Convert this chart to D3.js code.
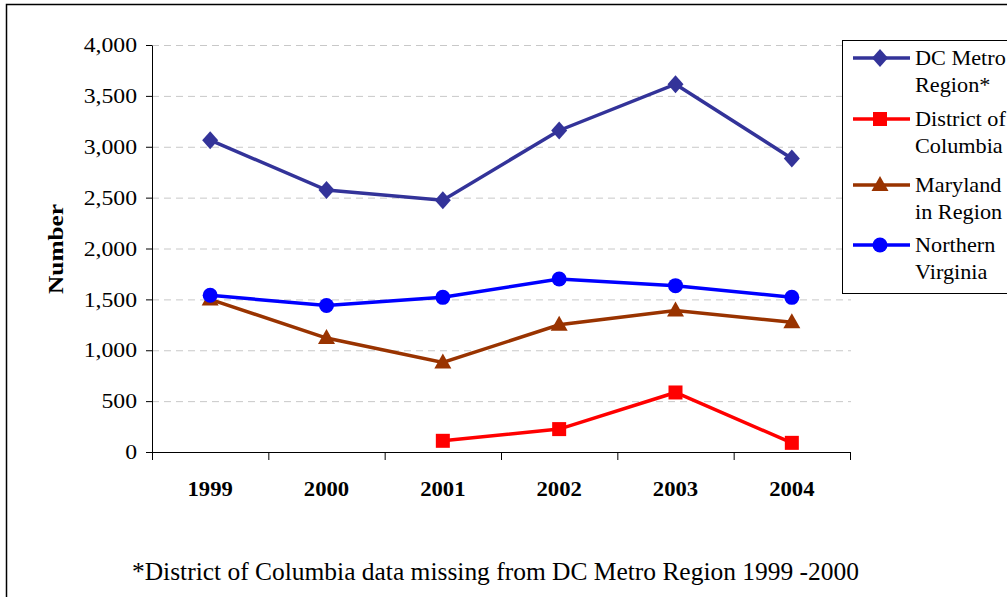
<!DOCTYPE html>
<html>
<head>
<meta charset="utf-8">
<script src="https://cdn.jsdelivr.net/npm/d3@7"></script>
<style>
  body { margin: 0; background: #fff; }
  svg { display: block; font-family: "Liberation Serif", "Times New Roman", serif; }
</style>
</head>
<body>
<svg id="chart" width="1007" height="597"></svg>
<script>
// data
const years = ["1999", "2000", "2001", "2002", "2003", "2004"];
const dcMetro = [3065, 2575, 2475, 3160, 3615, 2885];
const district = [null, null, 110, 225, 585, 90];
const maryland = [1500, 1120, 880, 1250, 1390, 1275];
const northernVa = [1540, 1440, 1520, 1700, 1635, 1520];
const yTicks = [0, 500, 1000, 1500, 2000, 2500, 3000, 3500, 4000];

const seriesNames = [["DC Metro", "Region*"], ["District of", "Columbia"], ["Maryland", "in Region"], ["Northern", "Virginia"]];
const seriesColors = ["#333399", "#ff0000", "#993300", "#0000ff"];
const seriesShapes = ["diamond", "square", "triangle", "circle"];
const seriesValues = [dcMetro, district, maryland, northernVa];

const svg = d3.select("#chart");
const plotLeft = 152, plotRight = 850, plotTop = 45, plotBottom = 452;

// outer frame
svg.append("rect")
  .attr("x", 6.5).attr("y", 4.5)
  .attr("width", 1010).attr("height", 600)
  .attr("fill", "none").attr("stroke", "#000").attr("stroke-width", 1.5);

const x = d3.scaleBand().domain(years).range([plotLeft, plotRight]);
const y = d3.scaleLinear().domain([0, 4000]).range([plotBottom, plotTop]);

// gridlines
svg.append("g")
  .selectAll("line")
  .data(yTicks.filter(d => d > 0))
  .enter()
  .append("line")
  .attr("x1", plotLeft).attr("x2", plotRight + 1)
  .attr("y1", d => y(d) + 0.5).attr("y2", d => y(d) + 0.5)
  .attr("stroke", "#c8c8c8").attr("stroke-dasharray", "7,5");

// y axis
const yAxis = svg.append("g")
  .attr("transform", `translate(${plotLeft},0)`)
  .call(d3.axisLeft(y).tickValues(yTicks).tickFormat(d3.format(",")).tickSize(6).tickSizeOuter(0).tickPadding(9));
yAxis.selectAll("path, line").attr("stroke", "#000");
yAxis.selectAll("text")
  .attr("font-family", "Liberation Serif").attr("font-size", 21).attr("fill", "#000")
  .attr("transform", "scale(1.13,1)")
  .attr("x", -15 / 1.13);

// x axis line + boundary ticks
const xb = d3.scaleLinear().domain([0, years.length]).range([plotLeft, plotRight]);
const xAxis = svg.append("g")
  .attr("transform", `translate(0,${plotBottom})`)
  .call(d3.axisBottom(xb).ticks(years.length).tickSize(8).tickSizeOuter(0).tickFormat(""));
xAxis.selectAll("path, line").attr("stroke", "#000");

// x labels
const xLab = svg.append("g")
  .attr("transform", `translate(0,${plotBottom})`)
  .call(d3.axisBottom(x).tickSize(0).tickPadding(29));
xLab.select(".domain").remove();
xLab.selectAll("text")
  .attr("font-family", "Liberation Serif").attr("font-size", 21)
  .attr("font-weight", "bold").attr("fill", "#000")
  .attr("transform", "scale(1.08,1)");

// y title
svg.append("text")
  .attr("transform", "translate(63,249) rotate(-90) scale(1.15,1)")
  .attr("text-anchor", "middle")
  .attr("font-size", 22).attr("font-weight", "bold")
  .text("Number");

function marker(sel, shape, color, cx, cy) {
  if (shape === "diamond") {
    sel.append("path").attr("d", `M${cx},${cy - 9}L${cx + 8},${cy}L${cx},${cy + 9}L${cx - 8},${cy}Z`).attr("fill", color);
  } else if (shape === "square") {
    sel.append("rect").attr("x", cx - 7).attr("y", cy - 7).attr("width", 14).attr("height", 14).attr("fill", color);
  } else if (shape === "triangle") {
    sel.append("path").attr("d", `M${cx},${cy - 9}L${cx + 8.5},${cy + 6}L${cx - 8.5},${cy + 6}Z`).attr("fill", color);
  } else {
    sel.append("circle").attr("cx", cx).attr("cy", cy).attr("r", 7.5).attr("fill", color);
  }
}

const line = d3.line()
  .defined(d => d.v != null)
  .x(d => x(d.year) + x.bandwidth() / 2)
  .y(d => y(d.v));

seriesValues.forEach((vals, i) => {
  const pts = years.map((yr, j) => ({ year: yr, v: vals[j] }));
  const g = svg.append("g");
  g.append("path")
    .datum(pts)
    .attr("d", line)
    .attr("fill", "none")
    .attr("stroke", seriesColors[i])
    .attr("stroke-width", 3.5);
  pts.filter(p => p.v != null).forEach(p => {
    marker(g, seriesShapes[i], seriesColors[i], x(p.year) + x.bandwidth() / 2, y(p.v));
  });
});

// legend
const leg = svg.append("g");
leg.append("rect")
  .attr("x", 842.5).attr("y", 40.5).attr("width", 200).attr("height", 253)
  .attr("fill", "#fff").attr("stroke", "#000");
const rowY = [58, 119, 185, 245];
seriesNames.forEach((nm, i) => {
  const ry = rowY[i];
  leg.append("line")
    .attr("x1", 853).attr("x2", 910).attr("y1", ry).attr("y2", ry)
    .attr("stroke", seriesColors[i]).attr("stroke-width", 3.5);
  marker(leg, seriesShapes[i], seriesColors[i], 880, ry);
  nm.forEach((t, k) => {
    leg.append("text")
      .attr("transform", `translate(915,${ry + 6.5 + k * 27.5}) scale(1.06,1)`)
      .attr("font-size", 21)
      .text(t);
  });
});

// footnote
svg.append("text")
  .attr("x", 132).attr("y", 579.5)
  .attr("font-size", 26)
  .attr("textLength", 727)
  .attr("lengthAdjust", "spacingAndGlyphs")
  .text("*District of Columbia data missing from DC Metro Region 1999 -2000");
</script>
</body>
</html>
